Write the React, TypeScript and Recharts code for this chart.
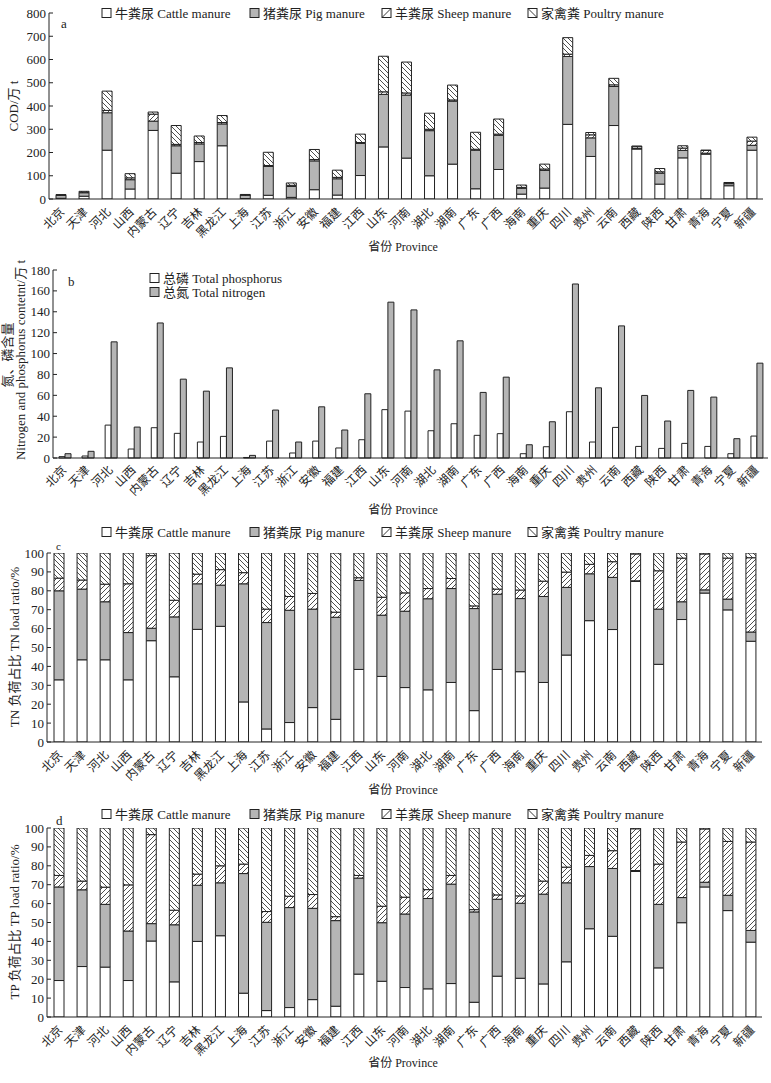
import React from 'react';
import { BarChart, Bar, XAxis, YAxis } from 'recharts';

const provinces = ['北京','天津','河北','山西','内蒙古','辽宁','吉林','黑龙江','上海','江苏','浙江','安徽','福建','江西','山东','河南','湖北','湖南','广东','广西','海南','重庆','四川','贵州','云南','西藏','陕西','甘肃','青海','宁夏','新疆'];

// Panel a: COD (万 t)
const codCattle = [3,12,210,43,295,111,161,229,2,16,7,40,17,101,224,176,100,150,44,127,21,47,321,183,316,215,64,177,193,57,210];
const codPig = [13,15,161,40,40,118,76,94,14,124,47,124,70,138,226,271,194,271,166,147,25,76,292,80,168,2,47,32,4,9,21];
const codSheep = [1,2,10,8,30,6,6,6,0.5,4,5,6,6,4,11,9,6,5,4,5,4,6,10,13,7,8,6,10,12,4,18];
const codPoultry = [2,4,83,18,9,81,28,30,3,57,10,43,31,36,153,133,69,64,73,65,10,21,71,10,28,3,14,10,1,1,17];

// Panel b: nitrogen / phosphorus content (万 t)
const tpContent = [1.3,1.9,31.5,8.6,29,23.6,15.3,20.7,0.5,16.2,4.8,16.2,9.6,17.5,46.3,44.9,26.1,32.8,21.7,23.3,4.1,10.8,44.3,15.3,29.3,11.1,9.2,14,11.1,4.1,21];
const tnContent = [4.1,6.4,111.2,29.6,129.3,75.5,64,86.3,2.5,45.9,15.3,49,26.8,61.5,149.2,141.8,84.4,112.2,62.8,77.4,12.7,34.7,166.6,67.2,126.5,59.9,35.4,64.7,58.3,18.5,90.8];

// Panel c: TN load ratio (%)
const tnCattle = [32.9,43.5,43.5,32.9,53.6,34.5,59.6,61.2,21.2,6.9,10.3,18.2,12.0,38.4,34.7,28.8,27.6,31.5,16.6,38.4,37.2,31.5,46.0,64.2,59.5,85.0,41.1,64.8,78.8,69.9,53.3];
const tnPig = [47.1,37.4,30.7,25.0,6.6,31.7,24.1,21.8,62.5,56.3,59.4,52.1,54.0,47.1,32.4,40.4,48.2,49.7,54.0,39.8,38.7,45.5,35.8,24.8,27.6,0.3,29.2,9.4,1.7,5.7,4.9];
const tnSheep = [6.7,4.8,9.3,25.8,38.4,8.8,5.1,8.2,5.9,7.1,7.3,8.3,2.7,1.4,9.5,9.7,5.4,5.3,1.4,2.7,4.5,8.1,8.1,5.0,8.3,14.2,20.3,23.1,19.0,21.7,39.3];
const tnPoultry = [13.3,14.3,16.5,16.3,1.4,25.0,11.2,8.8,10.4,29.7,23.0,21.4,31.3,13.1,23.4,21.1,18.8,13.5,28.0,19.1,19.6,14.9,10.1,6.0,4.6,0.5,9.4,2.7,0.5,2.7,2.5];

// Panel d: TP load ratio (%)
const tpCattle = [19.3,26.7,26.4,19.3,40.2,18.6,40.0,43.0,12.6,3.4,5.0,9.2,5.7,22.7,18.9,15.6,14.9,17.7,7.8,21.6,20.5,17.5,29.2,46.7,42.7,77.0,26.0,49.9,68.8,56.3,39.6];
const tpPig = [49.5,40.6,33.2,26.2,9.2,30.2,29.7,28.0,63.3,46.7,52.9,48.3,45.3,50.8,31.0,38.9,47.8,52.6,47.8,40.7,39.7,47.5,41.8,32.9,35.9,0.5,33.6,13.3,2.5,8.1,6.2];
const tpSheep = [6.1,4.6,9.1,24.4,47.1,7.7,5.9,9.0,5.0,5.7,6.0,7.3,2.1,1.4,8.7,8.9,4.7,4.6,1.2,2.3,3.9,6.9,8.3,5.9,9.4,22.1,21.3,29.4,28.2,28.5,46.8];
const tpPoultry = [25.1,28.1,31.3,30.1,3.5,43.5,24.4,20.0,19.1,44.2,36.1,35.2,46.9,25.1,41.4,36.6,32.6,25.1,43.2,35.4,35.9,28.1,20.7,14.5,12.0,0.4,19.1,7.4,0.5,7.1,7.4];

const codTicks = [0,100,200,300,400,500,600,700,800];
const contentTicks = [0,20,40,60,80,100,120,140,160,180];
const ratioTicks = [0,10,20,30,40,50,60,70,80,90,100];

const FONT = "'Liberation Serif', 'Noto Sans CJK SC', serif";
const INK = '#222';
const GRAY = '#b5b5b5';

const stackRows = (c: number[], p: number[], s: number[], q: number[]) =>
  provinces.map((name, i) => ({ name, cattle: c[i], pig: p[i], sheep: s[i], poultry: q[i] }));

const codData = stackRows(codCattle, codPig, codSheep, codPoultry);
const tnData = stackRows(tnCattle, tnPig, tnSheep, tnPoultry);
const tpData = stackRows(tpCattle, tpPig, tpSheep, tpPoultry);
const contentData = provinces.map((name, i) => ({ name, tp: tpContent[i], tn: tnContent[i] }));

const makeXTick = (axisY: number, dx: number, dy: number) => (props: any) => {
  const { x, payload } = props;
  const px = x + dx;
  const py = axisY + dy;
  return (
    <text x={px} y={py} textAnchor="end" dominantBaseline="central" fontSize={12}
      fontFamily={FONT} fill={INK} transform={`rotate(-45 ${px} ${py})`}>
      {payload.value}
    </text>
  );
};

const makeYTick = (axisX: number) => (props: any) => {
  const { y, payload } = props;
  return (
    <g>
      <line x1={axisX} x2={axisX + 4} y1={y} y2={y} stroke={INK} strokeWidth={1} />
      <text x={axisX - 3} y={y} textAnchor="end" dominantBaseline="central" fontSize={13}
        fontFamily={FONT} fill={INK}>{payload.value}</text>
    </g>
  );
};

type StackProps = {
  data: any[]; top: number; height: number; marginTop: number; marginBottom: number;
  marginRight: number; yWidth: number; xHeight: number; domain: [number, number]; ticks: number[];
};

function StackPanel({ data, top, height, marginTop, marginBottom, marginRight, yWidth, xHeight, domain, ticks }: StackProps) {
  const axisY = height - marginBottom - xHeight;
  return (
    <div style={{ position: 'absolute', left: 0, top, width: 771, height }}>
      <BarChart width={771} height={height} data={data}
        margin={{ top: marginTop, right: marginRight, bottom: marginBottom, left: 0 }}>
        <XAxis dataKey="name" interval={0} tickLine={false} height={xHeight}
          axisLine={{ stroke: INK }} tick={makeXTick(axisY, 2, 11)} />
        <YAxis domain={domain} ticks={ticks} interval={0} width={yWidth} tickLine={false}
          axisLine={{ stroke: INK }} tick={makeYTick(yWidth)} allowDataOverflow />
        <Bar dataKey="cattle" stackId="s" fill="#ffffff" stroke={INK} strokeWidth={1} barSize={10} isAnimationActive={false} />
        <Bar dataKey="pig" stackId="s" fill={GRAY} stroke={INK} strokeWidth={1} barSize={10} isAnimationActive={false} />
        <Bar dataKey="sheep" stackId="s" fill="url(#hatchSheep)" stroke={INK} strokeWidth={1} barSize={10} isAnimationActive={false} />
        <Bar dataKey="poultry" stackId="s" fill="url(#hatchPoultry)" stroke={INK} strokeWidth={1} barSize={10} isAnimationActive={false} />
      </BarChart>
    </div>
  );
}

function ContentPanel() {
  const top = 255, height = 260, mb = 7, xh = 50, yw = 53;
  const axisY = height - mb - xh;
  return (
    <div style={{ position: 'absolute', left: 0, top, width: 771, height }}>
      <BarChart width={771} height={height} data={contentData} barGap={0}
        margin={{ top: 15, right: 3, bottom: mb, left: 0 }}>
        <XAxis dataKey="name" interval={0} tickLine={false} height={xh}
          axisLine={{ stroke: INK }} tick={makeXTick(axisY, 0, 10)} />
        <YAxis domain={[0, 180]} ticks={contentTicks} interval={0} width={yw} tickLine={false}
          axisLine={{ stroke: INK }} tick={makeYTick(yw)} />
        <Bar dataKey="tp" fill="#ffffff" stroke={INK} strokeWidth={1} barSize={6} isAnimationActive={false} />
        <Bar dataKey="tn" fill={GRAY} stroke={INK} strokeWidth={1} barSize={6} isAnimationActive={false} />
      </BarChart>
    </div>
  );
}

const legendItems = [
  { label: '牛粪尿 Cattle manure', fill: '#ffffff', x: 102 },
  { label: '猪粪尿 Pig manure', fill: GRAY, x: 250 },
  { label: '羊粪尿 Sheep manure', fill: 'url(#hatchSheepL)', x: 382 },
  { label: '家禽粪 Poultry manure', fill: 'url(#hatchPoultryL)', x: 528 },
];

function StackLegend({ y }: { y: number }) {
  return (
    <g>
      {legendItems.map((it) => (
        <g key={it.label}>
          <rect x={it.x} y={y - 4.5} width={9} height={9} fill={it.fill} stroke={INK} strokeWidth={1} />
          <text x={it.x + 13} y={y} dominantBaseline="central" fontSize={13} fontFamily={FONT} fill={INK}>{it.label}</text>
        </g>
      ))}
    </g>
  );
}

const txt = (x: number, y: number, s: string, extra: any = {}) => (
  <text x={x} y={y} fontSize={13} fontFamily={FONT} fill={INK} dominantBaseline="central" {...extra}>{s}</text>
);

function Overlay() {
  return (
    <svg width={771} height={1083} style={{ position: 'absolute', left: 0, top: 0, pointerEvents: 'none' }}>
      <defs>
        <pattern id="hatchSheep" patternUnits="userSpaceOnUse" width={5} height={5}>
          <rect width={5} height={5} fill="#fff" />
          <path d="M0,5 L5,0 M-1,1 L1,-1 M4,6 L6,4" stroke={INK} strokeWidth={0.8} />
        </pattern>
        <pattern id="hatchPoultry" patternUnits="userSpaceOnUse" width={5} height={5}>
          <rect width={5} height={5} fill="#fff" />
          <path d="M0,0 L5,5 M-1,4 L1,6 M4,-1 L6,1" stroke={INK} strokeWidth={0.8} />
        </pattern>
        <pattern id="hatchSheepL" patternUnits="objectBoundingBox" width={1} height={1}>
          <rect width={9} height={9} fill="#fff" />
          <path d="M0,9 L9,0" stroke={INK} strokeWidth={0.9} />
        </pattern>
        <pattern id="hatchPoultryL" patternUnits="objectBoundingBox" width={1} height={1}>
          <rect width={9} height={9} fill="#fff" />
          <path d="M0,0 L9,9" stroke={INK} strokeWidth={0.9} />
        </pattern>
      </defs>

      {/* Panel a */}
      <StackLegend y={13} />
      {txt(61, 23, 'a')}
      {txt(13, 106, 'COD/万 t', { textAnchor: 'middle', transform: 'rotate(-90 13 106)' })}
      {txt(403, 247, '省份 Province', { textAnchor: 'middle', fontSize: 12 })}

      {/* Panel b */}
      <rect x={150} y={273.5} width={9} height={9} fill="#fff" stroke={INK} />
      {txt(163, 278, '总磷 Total phosphorus')}
      <rect x={150} y={287.5} width={9} height={9} fill={GRAY} stroke={INK} />
      {txt(163, 292, '总氮 Total nitrogen')}
      {txt(68, 281, 'b')}
      {txt(7, 355, '氮、磷含量', { textAnchor: 'middle', transform: 'rotate(-90 7 355)' })}
      {txt(20, 360, 'Nitrogen and phosphorus contetnt/万 t', { textAnchor: 'middle', transform: 'rotate(-90 20 360)' })}
      {txt(403, 510, '省份 Province', { textAnchor: 'middle', fontSize: 12 })}

      {/* Panel c */}
      <StackLegend y={532} />
      {txt(56, 546, 'c', { fontSize: 11 })}
      {txt(14, 647, 'TN 负荷占比 TN load ratio/%', { textAnchor: 'middle', transform: 'rotate(-90 14 647)' })}
      {txt(403, 790, '省份 Province', { textAnchor: 'middle', fontSize: 12 })}

      {/* Panel d */}
      <StackLegend y={814} />
      {txt(56, 820, 'd')}
      {txt(14, 922, 'TP 负荷占比 TP load ratio/%', { textAnchor: 'middle', transform: 'rotate(-90 14 922)' })}
      {txt(403, 1063, '省份 Province', { textAnchor: 'middle', fontSize: 12 })}
    </svg>
  );
}

export default function App() {
  return (
    <div style={{ position: 'absolute', left: 0, top: 0, width: 771, height: 1083, background: '#fff', fontFamily: FONT }}>
      <StackPanel data={codData} top={0} height={265} marginTop={13} marginBottom={6} marginRight={8}
        yWidth={49} xHeight={60} domain={[0, 800]} ticks={codTicks} />
      <ContentPanel />
      <StackPanel data={tnData} top={515} height={270} marginTop={38} marginBottom={3} marginRight={9}
        yWidth={47} xHeight={40} domain={[0, 100]} ticks={ratioTicks} />
      <StackPanel data={tpData} top={790} height={293} marginTop={38} marginBottom={6} marginRight={9}
        yWidth={47} xHeight={60} domain={[0, 100]} ticks={ratioTicks} />
      <Overlay />
    </div>
  );
}
